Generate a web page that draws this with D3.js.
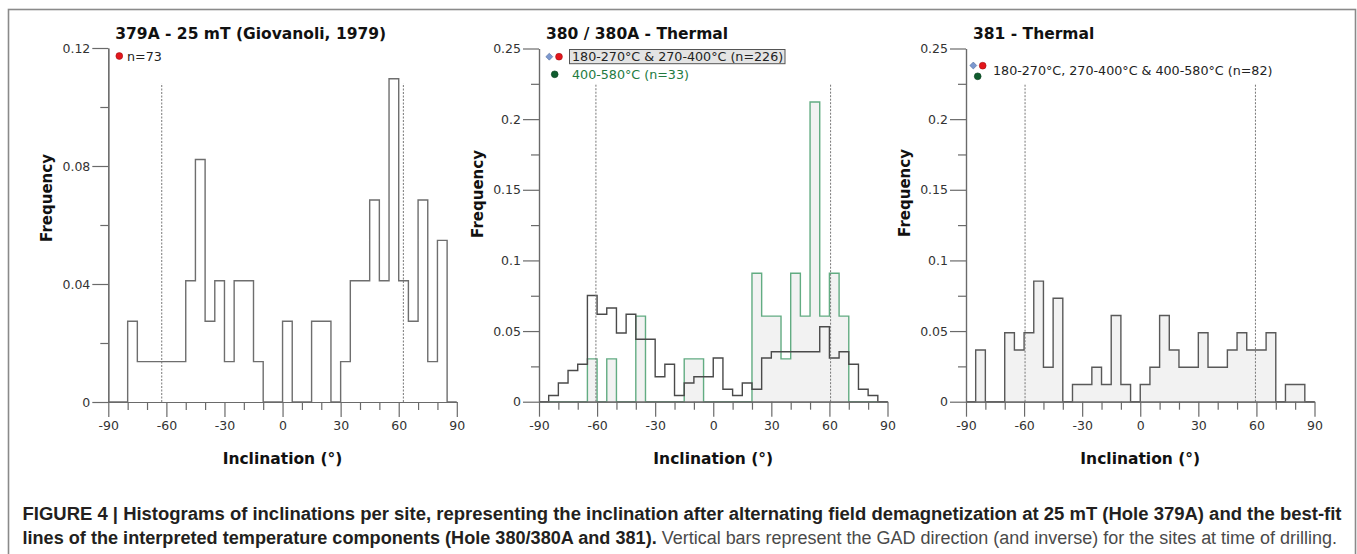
<!DOCTYPE html>
<html>
<head>
<meta charset="utf-8">
<script src="https://cdn.jsdelivr.net/npm/d3@7"></script>
<style>
  body { margin: 0; background: #fff; }
  svg { display: block; }
</style>
</head>
<body>
<svg id="fig" width="1357" height="554"></svg>
<script>
// Inclination histograms, 5° bins from -90° to +90° (36 bins), counts per bin
const binStart = -90;
const binWidth = 5;

// Hole 379A, AF 25 mT (Giovanoli, 1979)
const counts379A = [0,0,2,1,1,1,1,1,3,6,2,3,1,3,3,1,0,0,2,0,0,2,2,0,1,3,3,5,3,8,3,2,5,1,4,0];
const n379A = 73;

// Hole 380/380A, 180-270°C & 270-400°C components
const counts380Low = [0,1,3,5,6,17,14,15,11,14,10,10,4,6,1,3,4,4,7,2,1,3,2,7,8,8,8,8,8,12,7,8,6,2,1,0];
const n380Low = 226;

// Hole 380/380A, 400-580°C component
const counts380High = [0,0,0,0,0,1,0,1,0,0,2,0,0,0,0,1,1,0,0,0,0,0,3,2,2,1,3,2,7,2,3,2,0,0,0,0];
const n380High = 33;

// Hole 381, all temperature components
const counts381 = [0,3,0,0,4,3,4,7,2,6,0,1,1,2,1,5,1,0,1,2,5,3,2,2,4,2,2,3,4,3,3,4,0,1,1,0];
const n381 = 82;

// GAD inclination (and inverse) at each site at time of drilling
const gad379A = [-62.4, 62.4];
const gad380 = [-60.6, 60.6];
const gad381 = [-59.5, 59.5];

// Axis ticks
const xMajorTicks = [-90, -60, -30, 0, 30, 60, 90];
const xMinorTicks = [-80, -70, -50, -40, -20, -10, 10, 20, 40, 50, 70, 80];
const yMajorTicks379A = [0, 0.04, 0.08, 0.12];
const yMinorTicks379A = [0.02, 0.06, 0.10];
const yMajorTicksThermal = [0, 0.05, 0.1, 0.15, 0.2, 0.25];
const yMinorTicksThermal = [0.025, 0.075, 0.125, 0.175, 0.225];

// Titles and legend texts
const titles = ["379A - 25 mT (Giovanoli, 1979)", "380 / 380A - Thermal", "381 - Thermal"];
const legend379A = "n=73";
const legend380Low = "180-270°C & 270-400°C (n=226)";
const legend380High = "400-580°C (n=33)";
const legend381 = "180-270°C, 270-400°C & 400-580°C (n=82)";
const xLabel = "Inclination (°)";
const yLabel = "Frequency";

const captionLine1 = "FIGURE 4 | Histograms of inclinations per site, representing the inclination after alternating field demagnetization at 25 mT (Hole 379A) and the best-fit";
const captionLine2Bold = "lines of the interpreted temperature components (Hole 380/380A and 381).";
const captionLine2Regular = " Vertical bars represent the GAD direction (and inverse) for the sites at time of drilling.";

const svg = d3.select("#fig");
const chartFont = "'DejaVu Sans', Verdana, sans-serif";
const axisColor = "#6a6a6a";

// Outer frame
svg.append("rect")
  .attr("x", 8.5).attr("y", 9.5)
  .attr("width", 1347).attr("height", 600)
  .attr("fill", "none").attr("stroke", "#8a8a8a").attr("stroke-width", 1.6);

// Turn bin counts into a closed step outline (start and end on the baseline)
function stepPoints(counts, n) {
  const pts = [[binStart, 0]];
  counts.forEach((c, i) => {
    const lo = binStart + i * binWidth;
    const hi = lo + binWidth;
    pts.push([lo, c / n]);
    pts.push([hi, c / n]);
  });
  pts.push([binStart + counts.length * binWidth, 0]);
  return pts;
}

function drawPanel(cfg) {
  const g = svg.append("g");
  const x = d3.scaleLinear().domain([-90, 90]).range([cfg.left, cfg.left + 348.5]);
  const y = d3.scaleLinear().domain([0, cfg.yMax]).range([cfg.bottom, cfg.top]);

  // Histograms
  cfg.series.forEach(s => {
    const pts = stepPoints(s.counts, s.n);
    if (s.fill) {
      g.append("path")
        .attr("d", d3.area().x(d => x(d[0])).y0(y(0)).y1(d => y(d[1]))(pts))
        .attr("fill", s.fill).attr("stroke", "none");
    }
  });
  cfg.series.forEach(s => {
    const pts = stepPoints(s.counts, s.n);
    g.append("path")
      .attr("d", d3.line().x(d => x(d[0])).y(d => y(d[1]))(pts))
      .attr("fill", "none").attr("stroke", s.stroke)
      .attr("stroke-width", 1.4).attr("stroke-linejoin", "miter");
  });

  // GAD direction and its inverse
  g.selectAll(".gad").data(cfg.gad).join("line")
    .attr("x1", d => x(d)).attr("x2", d => x(d))
    .attr("y1", y(0)).attr("y2", y(cfg.yMax * 0.9))
    .attr("stroke", "#777").attr("stroke-width", 1)
    .attr("stroke-dasharray", "2,1.5");

  // Axes: minor ticks first, then labelled major ticks
  const styleAxis = sel => {
    sel.selectAll("path,line").attr("stroke", axisColor).attr("stroke-width", 1.2);
    sel.selectAll("text").attr("fill", "#333").style("font-family", chartFont).style("font-size", "12.5px");
  };
  g.append("g").attr("transform", `translate(0,${y(0)})`)
    .call(d3.axisBottom(x).tickValues(xMinorTicks).tickSize(8).tickSizeOuter(0).tickFormat(""))
    .call(styleAxis);
  g.append("g").attr("transform", `translate(0,${y(0)})`)
    .call(d3.axisBottom(x).tickValues(xMajorTicks).tickSize(15).tickSizeOuter(0).tickPadding(4)
      .tickFormat(d => String(d)))
    .call(styleAxis);
  g.append("g").attr("transform", `translate(${x(-90)},0)`)
    .call(d3.axisLeft(y).tickValues(cfg.yMinor).tickSize(8).tickSizeOuter(0).tickFormat(""))
    .call(styleAxis);
  g.append("g").attr("transform", `translate(${x(-90)},0)`)
    .call(d3.axisLeft(y).tickValues(cfg.yMajor).tickSize(16).tickSizeOuter(0).tickPadding(2)
      .tickFormat(d => d === 0 ? "0" : d3.format(".2~f")(d)))
    .call(styleAxis);

  // Title
  g.append("text").attr("x", cfg.left + 7).attr("y", 39)
    .style("font-family", chartFont).style("font-size", "15.5px").style("font-weight", "bold")
    .attr("fill", "#111").text(cfg.title);

  // Axis titles
  g.append("text").attr("x", (x(-90) + x(90)) / 2).attr("y", 464)
    .attr("text-anchor", "middle")
    .style("font-family", chartFont).style("font-size", "15.5px").style("font-weight", "bold")
    .attr("fill", "#111").text(xLabel);
  g.append("text")
    .attr("transform", `translate(${cfg.left - 56},${cfg.yLabelMid}) rotate(-90)`)
    .attr("text-anchor", "middle")
    .style("font-family", chartFont).style("font-size", "15px").style("font-weight", "bold")
    .attr("fill", "#111").text(yLabel);

  return g;
}

const p1 = drawPanel({
  left: 108.3, top: 48, bottom: 402, yMax: 0.12,
  yMajor: yMajorTicks379A, yMinor: yMinorTicks379A,
  gad: gad379A, title: titles[0], yLabelMid: 198,
  series: [{ counts: counts379A, n: n379A, stroke: "#6e6e6e", fill: null }]
});
const p2 = drawPanel({
  left: 539, top: 48.5, bottom: 401.7, yMax: 0.25,
  yMajor: yMajorTicksThermal, yMinor: yMinorTicksThermal,
  gad: gad380, title: titles[1], yLabelMid: 194,
  series: [
    { counts: counts380High, n: n380High, stroke: "#62ac82", fill: "#f2f2f2" },
    { counts: counts380Low, n: n380Low, stroke: "#4a4a4a", fill: null }
  ]
});
const p3 = drawPanel({
  left: 966, top: 48.5, bottom: 401.7, yMax: 0.25,
  yMajor: yMajorTicksThermal, yMinor: yMinorTicksThermal,
  gad: gad381, title: titles[2], yLabelMid: 193,
  series: [{ counts: counts381, n: n381, stroke: "#595959", fill: "#f2f2f2" }]
});

// Legend markers
const red = { fill: "#e3161c", stroke: "#a31014" };
const blue = { fill: "#7c98cf", stroke: "#56709f" };
const green = { fill: "#0f5c2e", stroke: "#0a3f1f" };
function dot(g, cx, cy, c) {
  g.append("circle").attr("cx", cx).attr("cy", cy).attr("r", 3.4)
    .attr("fill", c.fill).attr("stroke", c.stroke).attr("stroke-width", 0.6);
}
function diamond(g, cx, cy, c) {
  g.append("path").attr("d", d3.symbol(d3.symbolSquare, 24)())
    .attr("transform", `translate(${cx},${cy}) rotate(45)`)
    .attr("fill", c.fill).attr("stroke", c.stroke).attr("stroke-width", 0.6);
}
function legendText(g, x, y, t, color) {
  return g.append("text").attr("x", x).attr("y", y)
    .style("font-family", chartFont).style("font-size", "12.7px")
    .attr("fill", color).text(t);
}

dot(p1, 119.3, 56, red);
legendText(p1, 127, 60.5, legend379A, "#222");

diamond(p2, 549.3, 56.7, blue);
dot(p2, 559, 56.7, red);
p2.append("rect").attr("x", 569.5).attr("y", 49.5).attr("width", 215.5).attr("height", 14.2)
  .attr("fill", "#e4e4e4").attr("stroke", "#555").attr("stroke-width", 1);
legendText(p2, 572, 61.3, legend380Low, "#222");
dot(p2, 554.7, 74.3, green);
legendText(p2, 572, 78.5, legend380High, "#237a3f");

diamond(p3, 973.3, 65.5, blue);
dot(p3, 982.7, 65.7, red);
dot(p3, 977.7, 76.3, green);
legendText(p3, 993, 75, legend381, "#222");

// Caption, stretched to the frame's text width
const capFont = "'Liberation Sans', Arial, Helvetica, sans-serif";
const c1 = svg.append("text").attr("x", 22.5).attr("y", 520)
  .style("font-family", capFont).style("font-size", "18px").style("font-weight", "bold")
  .attr("fill", "#231f20").text(captionLine1);
c1.attr("textLength", 1319).attr("lengthAdjust", "spacingAndGlyphs");

const c2a = svg.append("text").attr("x", 22.5).attr("y", 544)
  .style("font-family", capFont).style("font-size", "18px").style("font-weight", "bold")
  .attr("fill", "#231f20").text(captionLine2Bold);
const c2b = svg.append("text").attr("y", 544)
  .style("font-family", capFont).style("font-size", "18px")
  .attr("fill", "#4a4a4a").text(captionLine2Regular);
const wA = c2a.node().getComputedTextLength();
const wB = c2b.node().getComputedTextLength();
const k = 1314.5 / (wA + wB);
c2a.attr("textLength", wA * k).attr("lengthAdjust", "spacingAndGlyphs");
c2b.attr("x", 22.5 + wA * k).attr("textLength", wB * k).attr("lengthAdjust", "spacingAndGlyphs")
  .attr("xml:space", "preserve").style("white-space", "pre");
</script>
</body>
</html>
